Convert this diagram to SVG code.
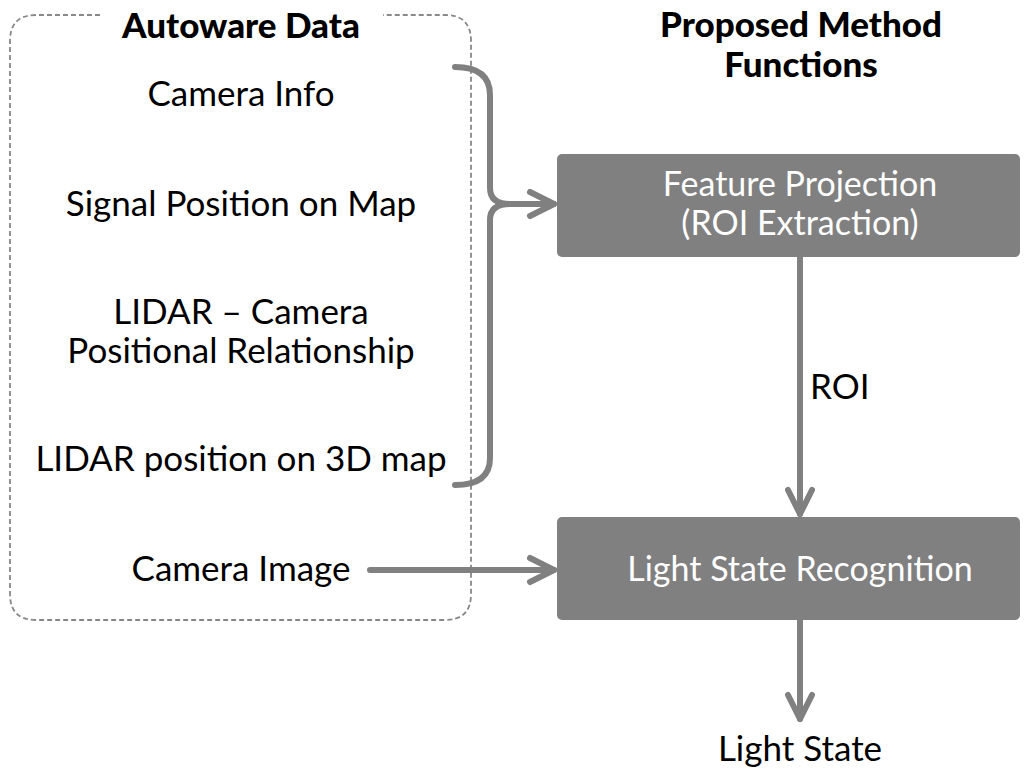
<svg xmlns="http://www.w3.org/2000/svg" width="1035" height="770" viewBox="0 0 1035 770">
  <style>
    .lbl { font-family: Lato, "Noto Sans", "Liberation Sans", sans-serif; font-size: 35px; fill: #000; text-anchor: middle; }
    .head { font-family: Lato, "Noto Sans", "Liberation Sans", sans-serif; font-size: 35px; font-weight: 900; fill: #000; text-anchor: middle; }
    .box { fill: #808080; }
    .boxtxt { font-family: Lato, "Noto Sans", "Liberation Sans", sans-serif; font-size: 34px; fill: #fff; text-anchor: middle; }
    .wire { fill: none; stroke: #808080; stroke-width: 6; stroke-linecap: round; stroke-linejoin: round; }
    .frame { fill: none; stroke: #888; stroke-width: 1.8; stroke-dasharray: 5 3; }
  </style>
  <defs>
    <marker id="chev" markerUnits="userSpaceOnUse" markerWidth="40" markerHeight="40" refX="30" refY="20" orient="auto" viewBox="0 0 40 40">
      <path d="M6 8 L30 20 L6 32" fill="none" stroke="#808080" stroke-width="6" stroke-linecap="round" stroke-linejoin="round"/>
    </marker>
  </defs>

  <!-- Autoware data group: dashed frame with a gap for the heading -->
  <g id="autoware-data">
    <path class="frame" d="M100 15 H36 Q10 15 10 41 V594 Q10 620 36 620 H445 Q471 620 471 594 V41 Q471 15 445 15 H383"/>
    <text class="head" x="241" y="38">Autoware Data</text>
    <text class="lbl" x="241" y="106">Camera Info</text>
    <text class="lbl" x="241" y="216">Signal Position on Map</text>
    <text class="lbl" x="241" y="324">LIDAR – Camera</text>
    <text class="lbl" x="241" y="363">Positional Relationship</text>
    <text class="lbl" x="241" y="471">LIDAR position on 3D map</text>
    <text class="lbl" x="241" y="581">Camera Image</text>
  </g>

  <g id="method-heading">
    <text class="head" x="801" y="37">Proposed Method</text>
    <text class="head" x="801" y="77">Functions</text>
  </g>

  <g id="feature-projection">
    <rect class="box" x="557" y="154" width="463" height="103" rx="5"/>
    <text class="boxtxt" x="800" y="196">Feature Projection</text>
    <text class="boxtxt" x="800" y="235">(ROI Extraction)</text>
  </g>

  <g id="light-state-recognition">
    <rect class="box" x="557" y="517" width="463" height="103" rx="5"/>
    <text class="boxtxt" x="800" y="581">Light State Recognition</text>
  </g>

  <g id="light-state">
    <text class="lbl" x="800" y="761">Light State</text>
  </g>

  <g id="connectors">
    <!-- brace gathering the map inputs -->
    <path class="wire" d="M455 67 Q490 67 490 95 V188 Q490 204 510 204 H554" marker-end="url(#chev)"/>
    <path class="wire" d="M510 204 Q490 204 490 220 V458 Q490 485 455 485"/>
    <path class="wire" d="M370 570 H554" marker-end="url(#chev)"/>
    <path class="wire" d="M800 257 V514" marker-end="url(#chev)"/>
    <path class="wire" d="M800 620 V719" marker-end="url(#chev)"/>
    <text class="lbl" x="810" y="399" style="text-anchor:start">ROI</text>
  </g>
</svg>
